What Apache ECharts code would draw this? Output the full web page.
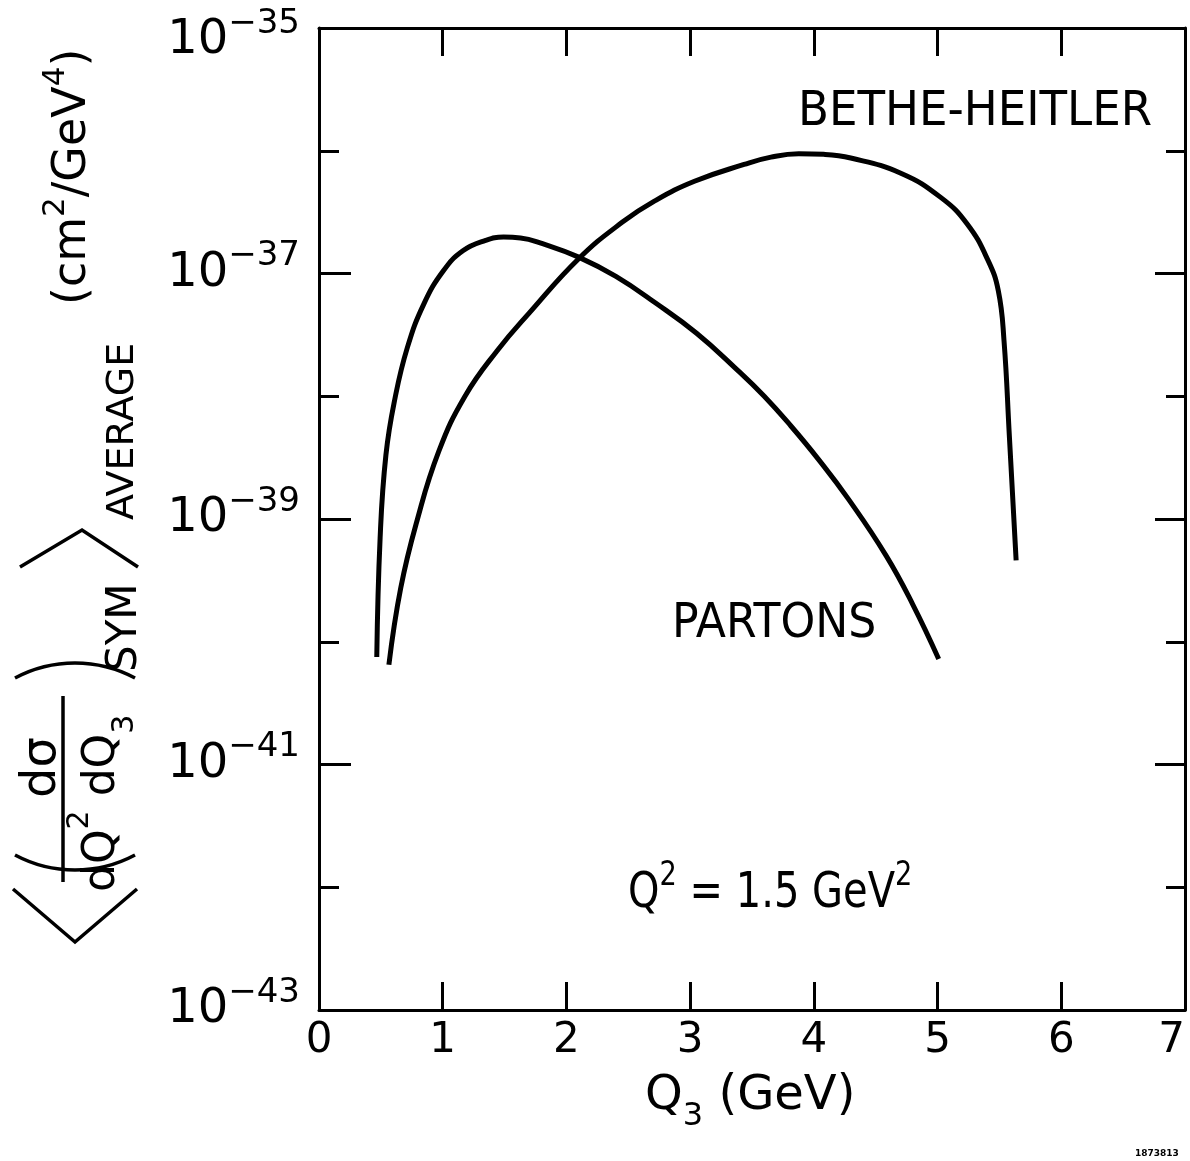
<!DOCTYPE html>
<html><head><meta charset="utf-8">
<script src="https://cdn.jsdelivr.net/npm/echarts@6/dist/echarts.min.js"></script>
<style>html,body{margin:0;padding:0;background:#fff}#c{width:1190px;height:1161px}</style>
</head><body><div id="c"></div>
<script>
// ---- data ----
const xTickLabels = ['0','1','2','3','4','5','6','7'];
const yTickExponents = [-43, -41, -39, -37, -35];   // labelled decades: 10^-43 ... 10^-35
const partonsQ3 = [0.467, 0.494, 0.541, 0.615, 0.714, 0.846, 1.004, 1.163, 1.347, 1.492, 1.629, 1.807, 2.099, 2.400, 2.718, 3.052, 3.378, 3.599, 3.813, 4.034, 4.281, 4.585, 4.801, 5.009];
const partonsSigma = [7.5e-41, 7.0e-40, 3.33e-39, 9.7e-39, 2.49e-38, 5.61e-38, 1.047e-37, 1.53e-37, 1.86e-37, 1.98e-37, 1.95e-37, 1.75e-37, 1.36e-37, 9.46e-38, 5.77e-38, 3.26e-38, 1.65e-38, 1.0e-38, 5.75e-39, 3.09e-39, 1.445e-39, 5.01e-40, 2.0e-40, 7.24e-41];
const bhQ3 = [0.565, 0.661, 0.790, 0.968, 1.180, 1.440, 1.702, 2.099, 2.450, 2.714, 3.035, 3.436, 3.653, 3.878, 4.080, 4.298, 4.703, 5.028, 5.241, 5.406, 5.491, 5.537, 5.580, 5.635];
const bhSigma = [6.5e-41, 2.75e-40, 9.5e-40, 3.55e-39, 1.0e-38, 2.35e-38, 4.8e-38, 1.32e-37, 2.61e-37, 3.9e-37, 5.64e-37, 7.73e-37, 8.87e-37, 9.46e-37, 9.35e-37, 8.73e-37, 6.56e-37, 4.15e-37, 2.52e-37, 1.29e-37, 7.24e-38, 2.84e-38, 4.79e-39, 4.6e-40];

const FONT = '"DejaVu Sans", sans-serif';
const chart = echarts.init(document.getElementById('c'), null, {renderer: 'canvas'});
// y axis is logarithmic: plot log10(sigma) on a linear decade scale
const zipLog = (a, b) => a.map((v, i) => [v, Math.log10(b[i])]);
const K = '#000';
const yMin = yTickExponents[0], yMax = yTickExponents[yTickExponents.length - 1];

function xAxisDef(pos, labels) {
  return {
    type: 'value', position: pos, min: 0, max: 7, interval: 1,
    axisLine: {show: true, onZero: false, lineStyle: {color: K, width: 3}},
    axisTick: {show: true, inside: true, length: 28, lineStyle: {color: K, width: 3}},
    axisLabel: {show: labels, color: K, fontSize: 42, fontFamily: FONT, margin: 10, alignMaxLabel: 'right',
      formatter: v => xTickLabels[Math.round(v)]},
    splitLine: {show: false}
  };
}
function yAxisDef(pos, interval, len, labels, line) {
  return {
    type: 'value', position: pos, min: yMin, max: yMax, interval: interval,
    axisLine: {show: line, onZero: false, lineStyle: {color: K, width: 3}},
    axisTick: {show: true, inside: true, length: len, lineStyle: {color: K, width: 3}},
    axisLabel: {show: labels, margin: 19, color: K, fontFamily: FONT,
      formatter: v => {
        const e = Math.round(v);
        const t = e === yMax ? 't' : '';   // top label sits a little lower, as in the original
        return '{b' + t + '|10}{s' + t + '|\u2212' + (-e) + '}';
      },
      rich: {
        b: {fontSize: 48, fontFamily: FONT, color: K},
        s: {fontSize: 34, fontFamily: FONT, color: K, padding: [0, 0, 34, 0]},
        bt: {fontSize: 48, fontFamily: FONT, color: K, padding: [26, 0, 0, 0]},
        st: {fontSize: 34, fontFamily: FONT, color: K, padding: [0, 0, 8, 0]}
      }
    },
    splitLine: {show: false}, minorTick: {show: false}
  };
}

const R = Math.PI / 2;
function vtext(text, x, y, size, rich) {
  return {type: 'text', x: x, y: y, rotation: R, silent: true,
    style: {text: text, fill: K, font: size + 'px ' + FONT, fontSize: size, fontFamily: FONT,
      align: 'left', verticalAlign: 'middle', textAlign: 'left', textVerticalAlign: 'middle', rich: rich || {}}};
}
function htext(text, x, y, size, sx, rich) {
  return {type: 'text', x: x, y: y, scaleX: sx || 1, silent: true,
    style: {text: text, fill: K, font: size + 'px ' + FONT, fontSize: size, fontFamily: FONT,
      align: 'left', verticalAlign: 'middle', textAlign: 'left', textVerticalAlign: 'middle', rich: rich || {}}};
}
const stroke = {stroke: K, lineWidth: 3.5, fill: null};

const option = {
  animation: false,
  backgroundColor: '#fff',
  grid: {left: 319, top: 28, width: 866, height: 982, containLabel: false, outerBoundsMode: 'none'},
  xAxis: [xAxisDef('bottom', true), xAxisDef('top', false)],
  yAxis: [
    yAxisDef('left', 2, 32, true, true),
    yAxisDef('left', 1, 20, false, false),
    yAxisDef('right', 2, 30, false, true),
    yAxisDef('right', 1, 19, false, false)
  ],
  series: [
    {name: 'PARTONS', type: 'line', xAxisIndex: 0, yAxisIndex: 0, data: zipLog(partonsQ3, partonsSigma),
     showSymbol: false, symbol: 'none', smooth: 0.45,
     lineStyle: {color: K, width: 5}},
    {name: 'BETHE-HEITLER', type: 'line', xAxisIndex: 0, yAxisIndex: 0, data: zipLog(bhQ3, bhSigma),
     showSymbol: false, symbol: 'none', smooth: 0.45,
     lineStyle: {color: K, width: 5}}
  ],
  graphic: {elements: [
    htext('BETHE-HEITLER', 798, 113, 48, 0.94),
    htext('PARTONS', 672, 625, 48, 0.92),
    htext('Q{s|2} = 1.5 GeV{s|2}', 628, 894, 50, 0.8, {
      s: {fontSize: 34, fontFamily: FONT, fill: K, color: K, padding: [0, 0, 36, 0]}
    }),
    htext('Q{u|3} (GeV)', 645, 1097, 48, 1, {
      u: {fontSize: 32, fontFamily: FONT, fill: K, color: K, padding: [40, 0, 0, 0]}
    }),
    {type: 'text', x: 1135, y: 1154, silent: true,
     style: {text: '1873813', fill: K, font: 'bold 9px ' + FONT, align: 'left', verticalAlign: 'middle'}},
    // rotated y-axis title
    vtext('(cm{s|2}/GeV{s|4})', 73, 305, 46, {
      s: {fontSize: 31, fontFamily: FONT, fill: K, color: K, padding: [0, 0, 34, 0]}
    }),
    vtext('AVERAGE', 123, 520, 38),
    vtext('SYM', 125, 672, 42),
    vtext('d\u03c3', 43, 798, 48),
    vtext('dQ{s|2} dQ{u|3}', 103, 892, 44, {
      s: {fontSize: 30, fontFamily: FONT, fill: K, color: K, padding: [0, 0, 46, 0]},
      u: {fontSize: 30, fontFamily: FONT, fill: K, color: K, padding: [44, 0, 0, 0]}
    }),
    {type: 'line', silent: true, shape: {x1: 63, y1: 696, x2: 63, y2: 882}, style: {stroke: K, lineWidth: 3.5}},
    {type: 'arc', silent: true, shape: {cx: 75, cy: 742.5, r: 127.5, startAngle: R - 0.49, endAngle: R + 0.49, clockwise: true}, style: stroke},
    {type: 'arc', silent: true, shape: {cx: 75, cy: 790.5, r: 127.5, startAngle: -R - 0.49, endAngle: -R + 0.49, clockwise: true}, style: stroke},
    {type: 'polyline', silent: true, shape: {points: [[13, 889], [75, 942], [137, 889]]}, style: stroke},
    {type: 'polyline', silent: true, shape: {points: [[20, 567], [82, 530], [138, 567]]}, style: stroke}
  ]}
};
chart.setOption(option);
</script>
</body></html>
